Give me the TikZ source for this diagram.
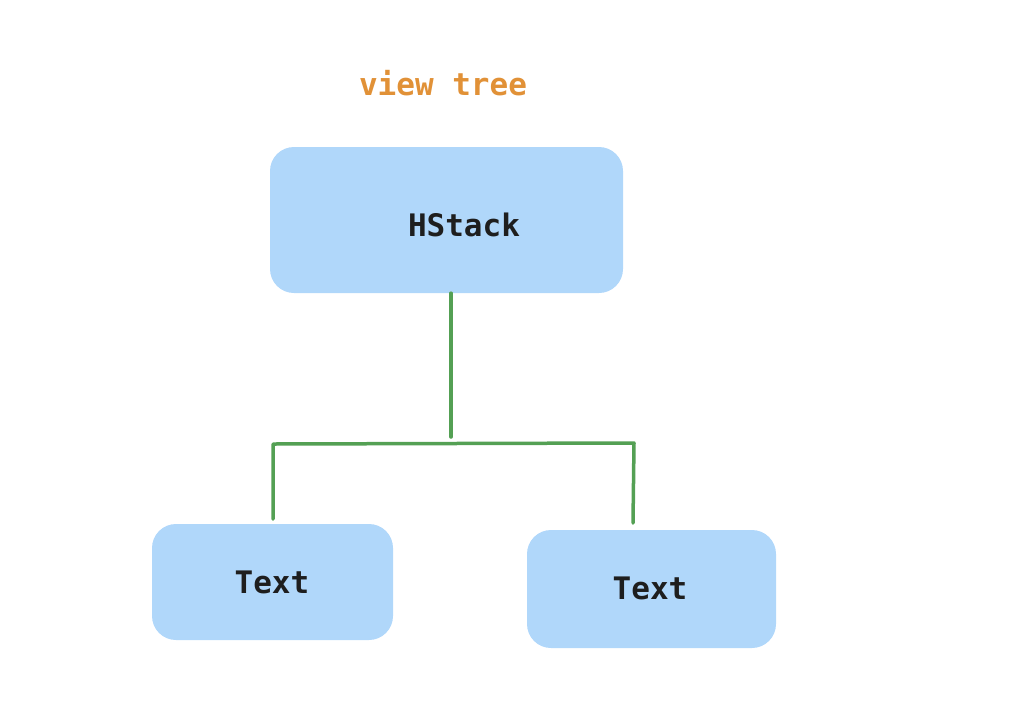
\documentclass[tikz,border=0pt]{standalone}
\usepackage{fontspec}
\setmonofont{DejaVu Sans Mono}
\definecolor{boxblue}{RGB}{176,215,250}
\definecolor{linegreen}{RGB}{84,160,84}
\definecolor{titleorange}{RGB}{225,145,55}
\definecolor{inkdark}{RGB}{30,30,30}
\tikzset{
  viewbox/.style={fill=boxblue, draw=none, rounded corners=24pt, inner sep=0pt},
  boxlabel/.style={font=\ttfamily\bfseries\fontsize{31}{33}\selectfont, text=inkdark, inner sep=0pt},
  treeline/.style={draw=linegreen, line width=3.5pt, line cap=round, line join=round},
}
\begin{document}
\begin{tikzpicture}[x=1pt,y=-1pt]
\useasboundingbox (0,0) rectangle (1018,716);
\node[font=\ttfamily\bfseries\fontsize{31}{33}\selectfont, text=titleorange, inner sep=0pt] (title) at (443,83) {view tree};
\node[viewbox, minimum width=353pt, minimum height=146pt] (hs) at (446.5,220) {};
\node[boxlabel] (hstext) at (464,225) {HStack};
\node[viewbox, minimum width=241pt, minimum height=116pt] (t1) at (272.5,582) {};
\node[boxlabel] (t1text) at (272,582) {Text};
\node[viewbox, minimum width=249pt, minimum height=118pt] (t2) at (651.5,589) {};
\node[boxlabel] (t2text) at (650,588) {Text};
\coordinate (trunk) at (451,295);
\coordinate (mid) at (451,437);
\coordinate (lcorner) at (273,444);
\coordinate (rcorner) at (634,443);
\coordinate (ltop) at (273,519);
\coordinate (rtop) at (633,523);
\draw[treeline] (hs.south -| trunk) -- (mid);
\draw[treeline] (ltop) -- (lcorner) -- (rcorner) -- (rtop);
\end{tikzpicture}
\end{document}
